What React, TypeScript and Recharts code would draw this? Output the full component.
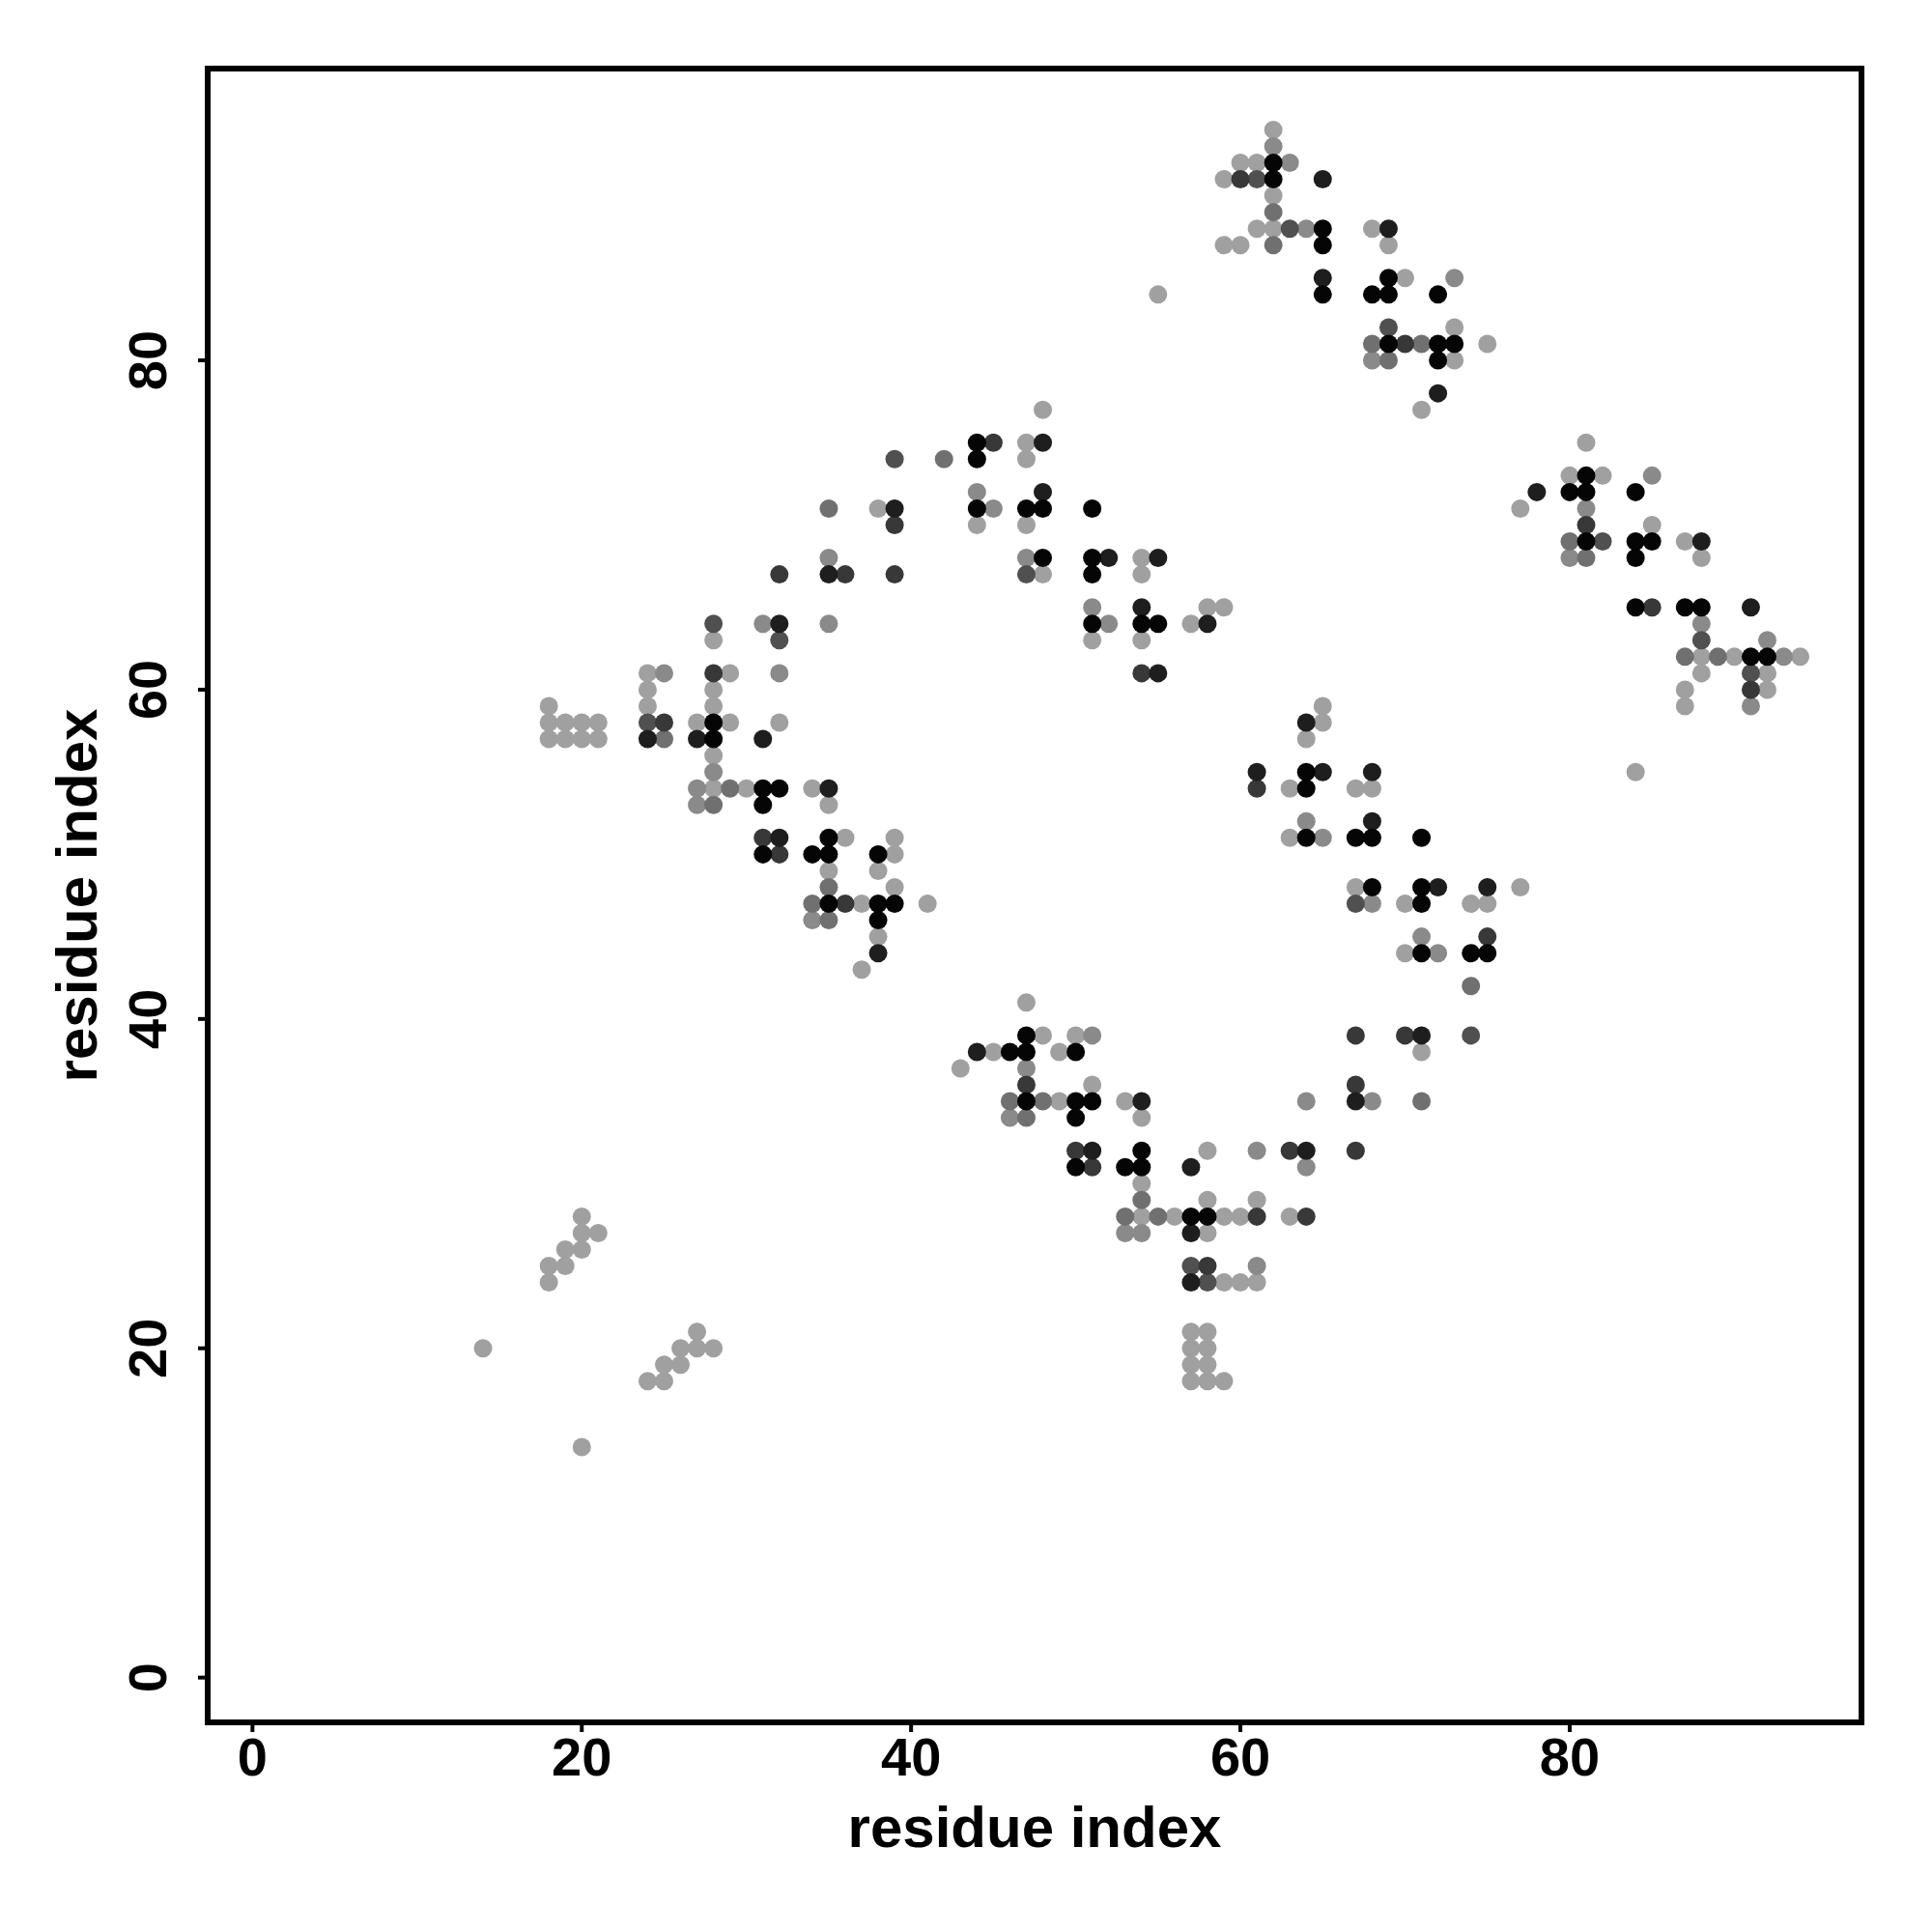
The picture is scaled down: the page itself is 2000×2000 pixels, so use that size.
import React from 'react'
import { ScatterChart, Scatter, XAxis, YAxis, ReferenceArea } from 'recharts'

// contact pairs [i, j], grouped by grey level (lightest first)
const lightPairs: [number, number][] = [
  [62, 94], [60, 92], [61, 92], [59, 91], [62, 90], [61, 88], [62, 88], [68, 88], [59, 87], [60, 87], [69, 87], [70, 85], [55, 84], [73, 82], [75, 81], [73, 80], [71, 77],
  [81, 75], [80, 73], [82, 73], [77, 71], [85, 70], [87, 69], [88, 68], [88, 62], [90, 62], [94, 62], [88, 61], [92, 61], [87, 60], [92, 60], [87, 59], [84, 55],
  [48, 77], [47, 75], [47, 74], [38, 71], [44, 70], [47, 70], [54, 68], [48, 67], [54, 67], [58, 65], [59, 65], [57, 64], [51, 63], [54, 63],
  [28, 63], [24, 61], [29, 61], [24, 60], [28, 60], [18, 59], [24, 59], [28, 59], [18, 58], [19, 58], [20, 58], [21, 58], [27, 58], [29, 58], [32, 58],
  [18, 57], [19, 57], [20, 57], [21, 57], [28, 56], [28, 54], [30, 54], [34, 54], [35, 53], [36, 51], [39, 51], [39, 50], [35, 49], [38, 49], [39, 48],
  [37, 47], [41, 47], [38, 45], [37, 43],
  [65, 59], [65, 58], [64, 57], [63, 54], [67, 54], [68, 54], [63, 51], [67, 48], [77, 48], [70, 47], [74, 47], [75, 47], [70, 44], [71, 38],
  [47, 41], [48, 39], [50, 39], [45, 38], [49, 38], [43, 37], [51, 36], [49, 35], [53, 35], [54, 34], [58, 32], [54, 30], [58, 29], [61, 29],
  [54, 28], [56, 28], [59, 28], [60, 28], [63, 28], [58, 27], [59, 24], [60, 24], [61, 24],
  [57, 21], [58, 21], [57, 20], [58, 20], [57, 19], [58, 19], [57, 18], [58, 18], [59, 18],
  [20, 28], [20, 27], [21, 27], [19, 26], [20, 26], [18, 25], [19, 25], [18, 24], [14, 20],
  [27, 21], [26, 20], [27, 20], [28, 20], [25, 19], [26, 19], [24, 18], [25, 18], [20, 14],
]

const midPairs: [number, number][] = [
  [62, 93], [63, 92], [64, 88], [73, 85], [68, 80],
  [85, 73], [81, 71], [80, 68], [88, 64], [92, 63], [93, 62], [91, 59],
  [44, 72], [45, 71], [47, 68], [51, 65], [52, 64], [35, 68],
  [31, 64], [35, 64], [25, 61], [32, 61], [28, 55], [27, 54], [27, 53], [34, 46],
  [64, 52], [65, 51], [68, 47], [71, 45], [72, 44], [68, 35],
  [51, 39], [47, 37], [64, 35], [46, 34], [61, 32], [64, 31], [53, 27], [54, 27], [61, 25],
]

const greyPairs: [number, number][] = [
  [62, 89], [62, 87], [68, 81], [71, 81], [69, 80],
  [80, 69], [81, 68], [87, 62], [89, 62],
  [42, 74], [35, 71],
  [25, 57], [29, 54], [28, 53], [35, 48], [34, 47], [35, 46],
  [74, 42], [71, 35],
  [46, 35], [48, 35], [47, 34], [54, 29], [53, 28], [55, 28],
]

const slatePairs: [number, number][] = [
  [61, 91], [63, 88], [69, 82],
  [82, 69], [88, 63], [91, 61],
  [39, 74], [47, 67],
  [28, 64], [32, 63], [24, 58],
  [67, 47], [74, 39],
  [57, 25], [58, 24],
]

const darkPairs: [number, number][] = [
  [60, 91], [70, 81],
  [81, 70], [85, 65], [91, 60],
  [45, 75], [39, 70], [39, 67], [54, 61], [32, 67], [36, 67],
  [28, 61], [25, 58], [31, 51], [32, 50], [36, 47],
  [61, 54], [75, 45], [67, 39], [70, 39], [67, 36], [67, 32],
  [47, 36], [50, 32], [63, 32], [51, 31], [61, 28], [64, 28], [58, 25],
]

const nearBlackPairs: [number, number][] = [
  [65, 91], [69, 88], [65, 85], [72, 78],
  [78, 72], [88, 69], [91, 65],
  [48, 75], [48, 72], [39, 71], [52, 68], [55, 68], [54, 65], [58, 64], [55, 61], [35, 67],
  [32, 64], [24, 57], [27, 57], [31, 57], [35, 54], [32, 51], [38, 44],
  [64, 58], [61, 55], [65, 55], [68, 55], [68, 52], [72, 48], [75, 48], [71, 39], [67, 35],
  [44, 38], [54, 35], [51, 32], [64, 32], [57, 31], [57, 27], [57, 24],
]

const blackPairs: [number, number][] = [
  [62, 92], [62, 91], [65, 88], [65, 87], [69, 85], [65, 84], [68, 84], [69, 84], [72, 84], [69, 81], [72, 81], [73, 81], [72, 80],
  [81, 73], [80, 72], [81, 72], [84, 72], [81, 69], [84, 69], [85, 69], [84, 68], [84, 65], [87, 65], [88, 65], [91, 62], [92, 62],
  [44, 75], [44, 74], [44, 71], [47, 71], [48, 71], [51, 71], [48, 68], [51, 68], [51, 67], [51, 64], [54, 64], [55, 64],
  [28, 58], [28, 57], [31, 54], [32, 54], [31, 53], [35, 51], [31, 50], [34, 50], [35, 50], [38, 50], [35, 47], [38, 47], [39, 47], [38, 46],
  [64, 55], [64, 54], [64, 51], [67, 51], [68, 51], [71, 51], [68, 48], [71, 48], [71, 47], [71, 44], [74, 44], [75, 44],
  [47, 39], [46, 38], [47, 38], [50, 38], [47, 35], [50, 35], [51, 35], [50, 34], [54, 32], [50, 31], [53, 31], [54, 31], [57, 28], [58, 28],
]

const axisTicks = [0, 20, 40, 60, 80]
const axisRange: [number, number] = [-2.72, 97.72]

const FONT = '"Liberation Sans", Arial, Helvetica, sans-serif'

const layers = [
  { name: 'light', pairs: lightPairs, color: '#a0a0a0' },
  { name: 'mid', pairs: midPairs, color: '#8a8a8a' },
  { name: 'grey', pairs: greyPairs, color: '#707070' },
  { name: 'slate', pairs: slatePairs, color: '#505050' },
  { name: 'dark', pairs: darkPairs, color: '#383838' },
  { name: 'nearBlack', pairs: nearBlackPairs, color: '#1e1e1e' },
  { name: 'black', pairs: blackPairs, color: '#050505' },
]

function XTick(props: any) {
  const { x, y, payload } = props
  return (
    <text x={x} y={y + 45} textAnchor="middle" fontSize={56} fontWeight="bold" fontFamily={FONT} fill="#000">
      {payload.value}
    </text>
  )
}

function YTick(props: any) {
  const { x, y, payload } = props
  const bx = x - 33
  return (
    <text x={bx} y={y} transform={`rotate(-90, ${bx}, ${y})`} textAnchor="middle" fontSize={56} fontWeight="bold" fontFamily={FONT} fill="#000">
      {payload.value}
    </text>
  )
}

export default function App() {
  return (
    <div style={{ position: 'absolute', left: 0, top: 0, width: 2000, height: 2000, background: '#fff' }}>
      <ScatterChart width={2000} height={2000} margin={{ top: 71, right: 73, bottom: 0, left: 0 }}>
        <XAxis
          type="number"
          dataKey="x"
          domain={axisRange}
          ticks={axisTicks}
          allowDataOverflow
          height={217}
          axisLine={false}
          tickLine={{ stroke: '#000', strokeWidth: 4 }}
          tickSize={10}
          tickMargin={0}
          tick={<XTick />}
          label={{
            content: (p: any) => {
              const vb = p.viewBox
              return (
                <text x={vb.x + vb.width / 2} y={vb.y + 129} textAnchor="middle" fontSize={60} fontWeight="bold" fontFamily={FONT} fill="#000">
                  residue index
                </text>
              )
            },
          }}
        />
        <YAxis
          type="number"
          dataKey="y"
          domain={axisRange}
          ticks={axisTicks}
          allowDataOverflow
          width={215}
          axisLine={false}
          tickLine={{ stroke: '#000', strokeWidth: 4 }}
          tickSize={10}
          tickMargin={0}
          tick={<YTick />}
          label={{
            content: (p: any) => {
              const vb = p.viewBox
              const cx = 100
              const cy = vb.y + vb.height / 2
              return (
                <text x={cx} y={cy} transform={`rotate(-90, ${cx}, ${cy})`} textAnchor="middle" fontSize={60} fontWeight="bold" fontFamily={FONT} fill="#000">
                  residue index
                </text>
              )
            },
          }}
        />
        <ReferenceArea x1={axisRange[0]} x2={axisRange[1]} y1={axisRange[0]} y2={axisRange[1]} fill="none" stroke="#000" strokeWidth={6} />
        {layers.map((layer) => (
          <Scatter
            key={layer.name}
            data={layer.pairs.map(([x, y]) => ({ x, y }))}
            isAnimationActive={false}
            shape={(p: any) => <circle cx={p.cx} cy={p.cy} r={9.5} fill={layer.color} />}
          />
        ))}
      </ScatterChart>
    </div>
  )
}
